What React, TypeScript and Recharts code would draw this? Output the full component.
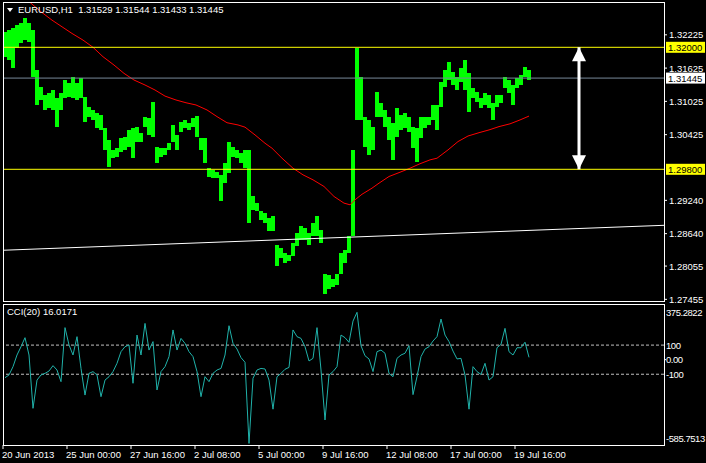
import React from "react";
import { ComposedChart, Bar, Line, XAxis, YAxis, ReferenceLine } from "recharts";

// EURUSD H1, one entry every 4 hourly bars (bar index = hours since the first bar on screen)
const symbol = "EURUSD,H1";
const lastOhlc = [1.31529, 1.31544, 1.31433, 1.31445];
const barStep = 4;

const highs = [
  1.3228, 1.3231, 1.3234, 1.324, 1.3243, 1.3252, 1.3243, 1.3231, 1.3159, 1.3129,
  1.3114, 1.3117, 1.3123, 1.3108, 1.3117, 1.3141, 1.3135, 1.3147, 1.3135, 1.3144,
  1.3111, 1.3093, 1.3087, 1.3081, 1.3078, 1.3054, 1.3033, 1.3015, 1.3018, 1.3036,
  1.3039, 1.3051, 1.3054, 1.3057, 1.3045, 1.3075, 1.3072, 1.3102, 1.3021, 1.3018,
  1.3018, 1.3027, 1.306, 1.3042, 1.3066, 1.3069, 1.3063, 1.3072, 1.3076, 1.3036,
  1.3036, 1.2982, 1.2979, 1.2976, 1.297, 1.2991, 1.303, 1.3021, 1.3015, 1.3009,
  1.3015, 1.3015, 1.2931, 1.2919, 1.2904, 1.2901, 1.2892, 1.2895, 1.2844, 1.2838,
  1.2829, 1.2826, 1.2847, 1.2865, 1.2877, 1.2874, 1.2865, 1.2883, 1.2896, 1.2871,
  1.2792, 1.2789, 1.2783, 1.2792, 1.2829, 1.2835, 1.2859, 1.3015, 1.3198, 1.3147,
  1.3075, 1.3069, 1.3057, 1.312, 1.3099, 1.3087, 1.3075, 1.3063, 1.309, 1.3078,
  1.3081, 1.3075, 1.3057, 1.3054, 1.3075, 1.3075, 1.3075, 1.3096, 1.3096, 1.3138,
  1.3159, 1.3174, 1.3156, 1.3147, 1.3162, 1.3177, 1.3153, 1.3126, 1.312, 1.3108,
  1.3117, 1.3114, 1.3099, 1.3114, 1.3114, 1.3147, 1.3141, 1.3132, 1.3144, 1.315,
  1.3165, 1.3159,
];

const lows = [
  1.3183, 1.3177, 1.3162, 1.3198, 1.3207, 1.3213, 1.321, 1.3147, 1.3096, 1.3105,
  1.3087, 1.309, 1.3087, 1.3057, 1.3087, 1.3108, 1.3111, 1.3108, 1.3105, 1.3108,
  1.3066, 1.3075, 1.3069, 1.3054, 1.3051, 1.3015, 1.2985, 1.3, 1.3003, 1.3012,
  1.3015, 1.3021, 1.3, 1.303, 1.303, 1.3057, 1.3042, 1.3039, 1.2991, 1.3003,
  1.3006, 1.3015, 1.303, 1.3015, 1.3048, 1.3054, 1.3051, 1.3057, 1.3039, 1.3015,
  1.2991, 1.2967, 1.2964, 1.2964, 1.2922, 1.2955, 1.2973, 1.3003, 1.3, 1.2991,
  1.2982, 1.2883, 1.2907, 1.2904, 1.2889, 1.2883, 1.2868, 1.2868, 1.2805, 1.282,
  1.2811, 1.2814, 1.2823, 1.2841, 1.2853, 1.2853, 1.2844, 1.2859, 1.2859, 1.2847,
  1.2756, 1.2765, 1.2768, 1.2771, 1.2792, 1.2811, 1.2829, 1.2859, 1.3069, 1.3069,
  1.3021, 1.3006, 1.3015, 1.3075, 1.3075, 1.3057, 1.3033, 1.2997, 1.3039, 1.3051,
  1.3054, 1.3048, 1.3018, 1.2994, 1.3036, 1.3054, 1.306, 1.3069, 1.3051, 1.3093,
  1.3129, 1.3141, 1.3132, 1.3123, 1.3138, 1.3123, 1.3084, 1.3108, 1.3102, 1.309,
  1.3096, 1.309, 1.3069, 1.3093, 1.3099, 1.3126, 1.3117, 1.3096, 1.3126, 1.3132,
  1.3147, 1.3141,
];

// moving average (red), bar index -> value
const maBars = [
  27, 38, 49, 59, 69, 80, 90, 100, 111, 121, 131, 142, 152, 162, 173, 183, 193, 204, 214, 224,
  235, 242, 252, 262, 269, 279, 290, 300, 310, 321, 331, 341, 347, 352, 359, 369, 376, 386, 396, 407,
  417, 427, 434, 445, 455, 465, 476, 486, 496, 507, 517, 526,
];
const maValues = [
  1.3281, 1.3264, 1.3249, 1.3237, 1.3225, 1.3213, 1.32, 1.3183, 1.3168, 1.3153,
  1.3141, 1.3132, 1.3123, 1.3112, 1.3105, 1.31, 1.3096, 1.3087, 1.3075, 1.3064,
  1.306, 1.3056, 1.3042, 1.3027, 1.3018, 1.3, 1.2982, 1.297, 1.2961, 1.2949,
  1.2931, 1.2919, 1.2916, 1.2925, 1.2935, 1.2946, 1.2955, 1.2967, 1.2974, 1.2982,
  1.299, 1.2997, 1.3, 1.3015, 1.303, 1.304, 1.3046, 1.3051, 1.3057, 1.3062,
  1.3069, 1.3076,
];

const cciName = "CCI(20)";
const cciLast = "16.0171";
const cciValues = [
  -124, -105, -48, 32, 89, 151, 32, -334, -140, -105,
  -94, -78, -41, -71, -151, 220, 101, 32, 158, -60,
  -243, -94, -82, -105, -254, -140, -117, -82, -25, 55,
  89, 101, -162, 169, 32, 249, 66, 124, -208, -82,
  -48, 21, 204, 66, 146, 112, 55, 21, -82, -254,
  -117, -151, -94, -71, -60, 32, 233, 112, 73, 14,
  -18, -575, -128, -71, -60, -64, -140, -340, -117, -94,
  -66, -53, 204, 158, 146, 89, -9, 9, 220, -71,
  -414, -105, -82, -48, 169, 151, 119, 265, 325, 96,
  27, 5, -82, 55, 66, 44, -94, -117, 9, 32,
  44, 96, -240, -117, 21, 73, 89, 128, 158, 279,
  169, 124, 59, 5, 9, -105, -340, -48, -82, -101,
  -25, -140, -117, 82, 105, 215, 55, 32, 82, 82,
  120, 16,
];

const priceTicks = [1.32225, 1.31625, 1.31025, 1.30425, 1.2924, 1.2864, 1.28055, 1.27455];
const levelPrices = [1.32, 1.298];
const bidPrice = 1.31445;
const trendBars = [0, 661];
const trendPrices = [1.2834, 1.2879];
const arrowBar = 576;

const cciTicks = [375.2822, 100, 0, -100, -585.7513];
const cciTickLabels = ["375.2822", "100", "0.00", "-100", "-585.7513"];
const cciLevels = [100, -100];

const timeTicks = [0, 64, 128, 192, 256, 320, 384, 448, 512];
const timeLabels = [
  "20 Jun 2013", "25 Jun 00:00", "27 Jun 16:00", "2 Jul 08:00", "5 Jul 00:00",
  "9 Jul 16:00", "12 Jul 08:00", "17 Jul 00:00", "19 Jul 16:00",
];

const priceBars = highs.map((h, i) => ({ idx: i * barStep + 2, range: [lows[i], h] }));
const maData = maBars.map((b, i) => ({ idx: b, ma: maValues[i] }));
const trendData = trendBars.map((b, i) => ({ idx: b, trend: trendPrices[i] }));
const arrowData = levelPrices.map((p) => ({ idx: arrowBar, arrow: p }));
const cciData = cciValues.map((v, i) => ({ idx: i * barStep + 2, cci: v }));

const FONT = "'Liberation Sans', Arial, sans-serif";
const FS = 9.5;

function RangeBar(props: any) {
  const { x, y, width, height } = props;
  const cx = x + width / 2;
  const top = Math.min(y, y + height);
  return (
    <rect
      x={Math.round(cx) - 2}
      y={top}
      width={4}
      height={Math.max(Math.abs(height), 1)}
      fill="#00FF00"
      shapeRendering="crispEdges"
    />
  );
}

function PriceTick(props: any) {
  const { x, y, payload } = props;
  return (
    <g>
      <line x1={x} x2={x + 3} y1={y} y2={y} stroke="#fff" />
      <text x={x + 5} y={y + 3.5} fill="#fff" fontSize={FS} fontFamily={FONT}>
        {payload.value.toFixed(5)}
      </text>
    </g>
  );
}

function PriceBox(props: any) {
  const { viewBox, bg, text } = props;
  const x = viewBox.x + viewBox.width + 2;
  const y = viewBox.y;
  return (
    <g>
      <rect x={x} y={y - 5.5} width={39} height={11} fill={bg} />
      <text x={x + 2} y={y + 3.5} fill="#000" fontSize={FS} fontFamily={FONT}>
        {text}
      </text>
    </g>
  );
}

function ArrowHead(props: any) {
  const { cx, cy, index } = props;
  const d = index === 0 ? 14 : -14;
  return (
    <polygon
      key={`head-${index}`}
      points={`${cx},${cy} ${cx - 7},${cy + d} ${cx + 7},${cy + d}`}
      fill="#fff"
    />
  );
}

function CciTick(props: any) {
  const { x, y, payload } = props;
  const i = cciTicks.indexOf(payload.value);
  const ty = Math.min(Math.max(y, 12), 138);
  return (
    <g>
      {payload.value === 0 && <line x1={x} x2={x + 2} y1={y} y2={y} stroke="#fff" />}
      <text x={x + 2} y={ty + 3.5} fill="#fff" fontSize={FS} fontFamily={FONT} letterSpacing={-0.45}>
        {cciTickLabels[i]}
      </text>
    </g>
  );
}

function TimeTick(props: any) {
  const { x, y, payload } = props;
  const i = timeTicks.indexOf(payload.value);
  return (
    <g>
      <line x1={x} x2={x} y1={y} y2={y + 4} stroke="#fff" />
      <text x={x - 1} y={y + 13} fill="#fff" fontSize={FS} fontFamily={FONT}>
        {timeLabels[i]}
      </text>
    </g>
  );
}

export default function App() {
  return (
    <div style={{ position: "absolute", left: 0, top: 0, width: 706, height: 463, background: "#000", overflow: "hidden" }}>
      <div style={{ position: "absolute", left: 0, top: 0 }}>
        <ComposedChart width={706} height={310} data={priceBars} margin={{ top: 2, right: 0, bottom: 9, left: 3 }}>
          <XAxis type="number" dataKey="idx" domain={[0, 661]} hide allowDataOverflow />
          <YAxis
            orientation="right"
            width={42}
            domain={[1.27425, 1.32817]}
            allowDataOverflow
            ticks={priceTicks}
            interval={0}
            tickSize={0}
            tickMargin={0}
            axisLine={false}
            tickLine={false}
            tick={(p: any) => <PriceTick {...p} />}
          />
          <Bar dataKey="range" fill="#00FF00" barSize={4} shape={(p: any) => <RangeBar {...p} />} isAnimationActive={false} />
          <Line data={maData} dataKey="ma" stroke="#FF0000" strokeWidth={1} dot={false} activeDot={false} isAnimationActive={false} />
          <Line data={trendData} dataKey="trend" stroke="#FFFFFF" strokeWidth={1} dot={false} activeDot={false} isAnimationActive={false} />
          <ReferenceLine
            y={bidPrice}
            stroke="#778899"
            label={(p: any) => <PriceBox {...p} bg="#FFFFFF" text={bidPrice.toFixed(5)} />}
          />
          {levelPrices.map((lv) => (
            <ReferenceLine
              key={lv}
              y={lv}
              stroke="#FFFF00"
              label={(p: any) => <PriceBox {...p} bg="#FFFF00" text={lv.toFixed(5)} />}
            />
          ))}
          <Line
            data={arrowData}
            dataKey="arrow"
            stroke="#FFFFFF"
            strokeWidth={3}
            dot={(p: any) => <ArrowHead {...p} />}
            activeDot={false}
            isAnimationActive={false}
          />
        </ComposedChart>
      </div>
      <div style={{ position: "absolute", left: 0, top: 300 }}>
        <ComposedChart width={706} height={163} data={cciData} margin={{ top: 5, right: 0, bottom: 0, left: 3 }}>
          <XAxis
            type="number"
            dataKey="idx"
            domain={[0, 661]}
            allowDataOverflow
            ticks={timeTicks}
            interval={0}
            height={18}
            tickSize={0}
            tickMargin={0}
            axisLine={false}
            tickLine={false}
            tick={(p: any) => <TimeTick {...p} />}
          />
          <YAxis
            orientation="right"
            width={42}
            domain={[-585.7513, 375.2822]}
            allowDataOverflow
            ticks={cciTicks}
            interval={0}
            tickSize={0}
            tickMargin={0}
            axisLine={false}
            tickLine={false}
            tick={(p: any) => <CciTick {...p} />}
          />
          {cciLevels.map((lv) => (
            <ReferenceLine key={lv} y={lv} stroke="#C0C0C0" strokeDasharray="3 2" />
          ))}
          <Line dataKey="cci" stroke="#20B2AA" strokeWidth={1} dot={false} activeDot={false} isAnimationActive={false} />
        </ComposedChart>
      </div>
      <div style={{ position: "absolute", left: 3, top: 2, width: 662, height: 300, border: "1px solid #fff", boxSizing: "border-box" }} />
      <div style={{ position: "absolute", left: 3, top: 304, width: 662, height: 142, border: "1px solid #fff", boxSizing: "border-box" }} />
      <div style={{ position: "absolute", left: 7, top: 4, color: "#fff", fontFamily: FONT, fontSize: FS, whiteSpace: "pre", lineHeight: "12px", display: "flex", alignItems: "center" }}>
        <svg width={10} height={12} style={{ marginRight: 1 }}>
          <polygon points="0,4 6,4 3,8" fill="#fff" />
        </svg>
        {symbol + "  " + lastOhlc.map((v) => v.toFixed(5)).join(" ")}
      </div>
      <div style={{ position: "absolute", left: 7, top: 306, color: "#fff", fontFamily: FONT, fontSize: FS, whiteSpace: "pre", lineHeight: "12px" }}>
        {cciName + " " + cciLast}
      </div>
    </div>
  );
}
